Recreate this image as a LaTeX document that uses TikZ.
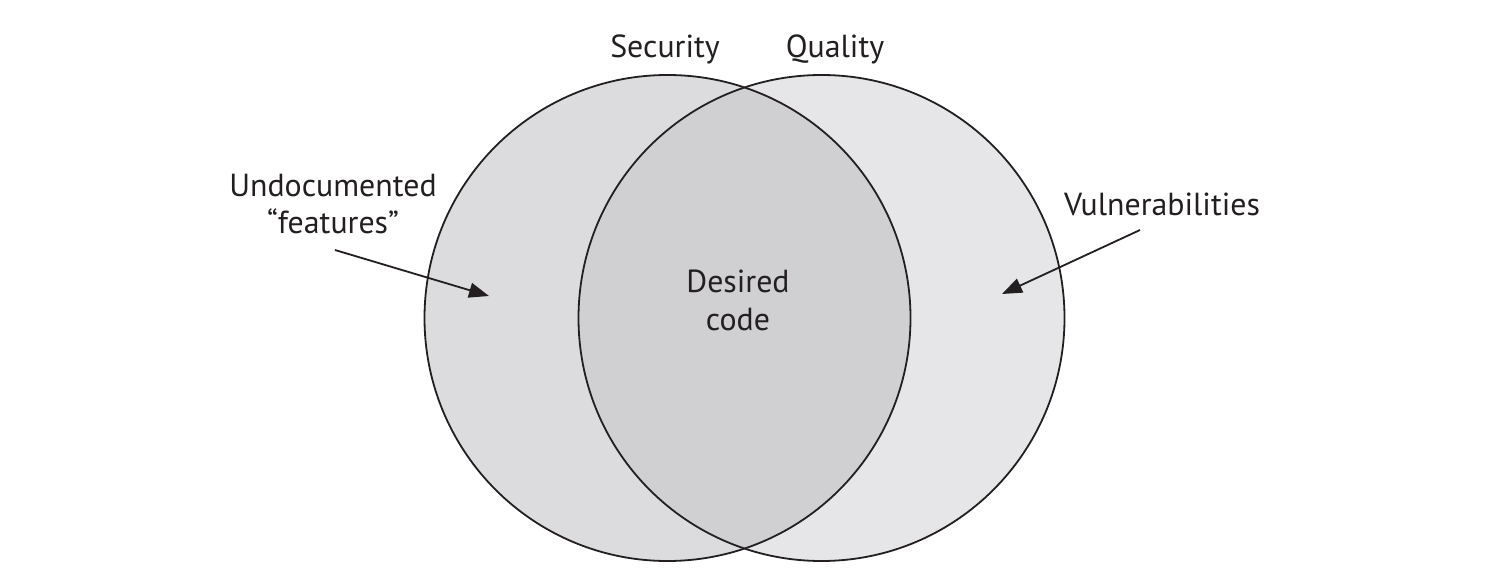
\documentclass[tikz,border=0pt]{standalone}
\usepackage{fontspec}
\setmainfont{PT Sans}
\usetikzlibrary{arrows.meta}
\definecolor{leftfill}{HTML}{DCDCDE}
\definecolor{rightfill}{HTML}{E6E6E8}
\definecolor{midfill}{HTML}{D0D0D2}
\definecolor{ink}{HTML}{231F20}
\tikzset{
  lbl/.style={font=\fontsize{32}{38}\selectfont, text=ink, inner sep=0pt, align=center},
  setcircle/.style={circle, minimum size=486bp, inner sep=0pt},
  outline/.style={draw=ink, line width=1.8bp},
  pointer/.style={draw=ink, line width=1.8bp, -{Triangle[length=20bp,width=15bp]}}
}
\begin{document}
\begin{tikzpicture}[x=1bp,y=-1bp]
\useasboundingbox (0,0) rectangle (1490,582);
% circles
\node[setcircle, fill=leftfill] (sec) at (667.5,318) {};
\node[setcircle, fill=rightfill] (qual) at (821.5,318) {};
\begin{scope}
  \clip (667.5,318) circle (243);
  \fill[midfill] (821.5,318) circle (243);
\end{scope}
\draw[outline] (667.5,318) circle (243);
\draw[outline] (821.5,318) circle (243);
% labels
\node[lbl] (seclbl) at (665,49) {Security};
\node[lbl] (quallbl) at (835,49) {Quality};
\node[lbl] (undoc) at (333,204) {Undocumented\\“features”};
\node[lbl] (vuln) at (1162,204) {Vulnerabilities};
\node[lbl] (desired) at (738,300) {Desired\\code};
% arrows
\coordinate (ustart) at (335,250);
\coordinate (uend) at (489,296);
\coordinate (vstart) at (1140,230);
\coordinate (vend) at (1002,294);
\draw[pointer] (ustart) -- (uend);
\draw[pointer] (vstart) -- (vend);
\end{tikzpicture}
\end{document}
